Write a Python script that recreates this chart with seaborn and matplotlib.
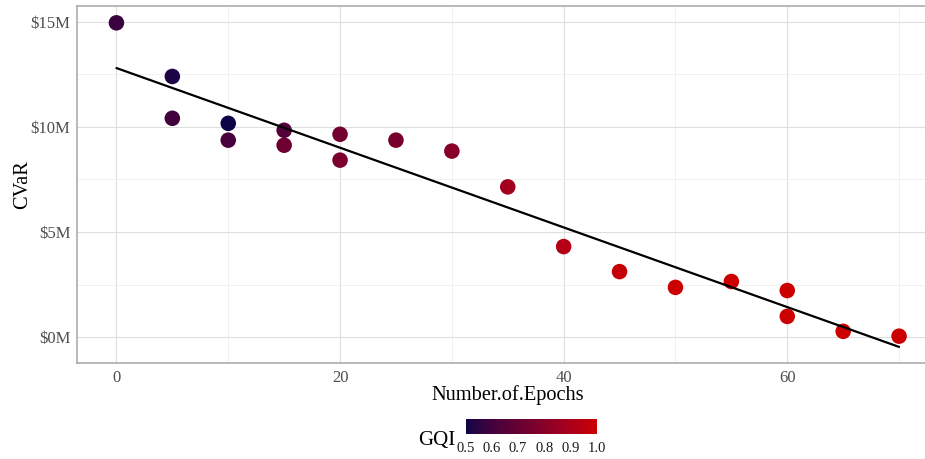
import numpy as np
import pandas as pd
import matplotlib
matplotlib.use("Agg")
import matplotlib.pyplot as plt
from matplotlib.colors import LinearSegmentedColormap, Normalize, to_rgb
from matplotlib.cm import ScalarMappable
import seaborn as sns

# ---- data ----
epochs = [0, 5, 5, 10, 10, 15, 15, 20, 20, 25, 30, 35, 40, 45, 50, 55, 60, 60, 65, 70]
cvar_musd = [14.95, 12.40, 10.41, 10.17, 9.37, 9.84, 9.13, 9.65, 8.42, 9.37,
             8.85, 7.15, 4.31, 3.12, 2.37, 2.65, 2.22, 0.99, 0.28, 0.05]
gqi = [0.58, 0.52, 0.60, 0.50, 0.62, 0.65, 0.72, 0.74, 0.76, 0.75,
       0.80, 0.88, 0.93, 0.98, 1.00, 1.00, 1.00, 1.00, 1.00, 1.00]
y_ticks = [0, 5, 10, 15]
x_ticks = [0, 20, 40, 60]
gqi_ticks = [0.5, 0.6, 0.7, 0.8, 0.9, 1.0]

df = pd.DataFrame({"Number.of.Epochs": epochs, "CVaR": cvar_musd, "GQI": gqi})

# ---- colour map: Lab interpolation like ggplot's scale_colour_gradient ----
def srgb_to_lab(c):
    c = np.array(c)
    lin = np.where(c <= 0.04045, c / 12.92, ((c + 0.055) / 1.055) ** 2.4)
    M = np.array([[0.4124, 0.3576, 0.1805], [0.2126, 0.7152, 0.0722], [0.0193, 0.1192, 0.9505]])
    xyz = M @ lin / np.array([0.95047, 1.0, 1.08883])
    f = np.where(xyz > 0.008856, np.cbrt(xyz), 7.787 * xyz + 16 / 116)
    return np.array([116 * f[1] - 16, 500 * (f[0] - f[1]), 200 * (f[1] - f[2])])

def lab_to_srgb(lab):
    L, a, b = lab
    fy = (L + 16) / 116
    fx = fy + a / 500
    fz = fy - b / 200
    f = np.array([fx, fy, fz])
    xyz = np.where(f ** 3 > 0.008856, f ** 3, (f - 16 / 116) / 7.787) * np.array([0.95047, 1.0, 1.08883])
    Minv = np.array([[3.2406, -1.5372, -0.4986], [-0.9689, 1.8758, 0.0415], [0.0557, -0.2040, 1.0570]])
    lin = Minv @ xyz
    c = np.where(lin <= 0.0031308, 12.92 * lin, 1.055 * np.clip(lin, 0, None) ** (1 / 2.4) - 0.055)
    return np.clip(c, 0, 1)

low, high = to_rgb("#0b0447"), to_rgb("#cc0000")
la, lb = srgb_to_lab(low), srgb_to_lab(high)
cols = [lab_to_srgb(la + (lb - la) * t) for t in np.linspace(0, 1, 64)]
cmap = LinearSegmentedColormap.from_list("gqi", cols)
norm = Normalize(vmin=0.5, vmax=1.0)

# ---- figure ----
sns.set_style("white")
plt.rcParams["font.family"] = ["Liberation Serif", "DejaVu Serif"]

W, H = 925, 459
fig = plt.figure(figsize=(W / 100, H / 100), dpi=100)
ax = fig.add_axes([77.3 / W, 1 - 363.3 / H, (938.2 - 77.3) / W, (363.3 - 6) / H])

grid_col = "#dedede"
ax.set_xlim(-3.5, 73.5)
ax.set_ylim(-1.24, 15.75)
ax.set_xticks(x_ticks)
ax.set_yticks(y_ticks)
ax.set_xticks([10, 30, 50, 70], minor=True)
ax.set_yticks([2.5, 7.5, 12.5], minor=True)
ax.grid(True, which="major", color=grid_col, linewidth=0.8, zorder=0)
ax.grid(True, which="minor", color="#ececec", linewidth=0.5, zorder=0)
ax.set_axisbelow(True)

sns.scatterplot(data=df, x="Number.of.Epochs", y="CVaR", hue="GQI", palette=cmap,
                hue_norm=norm, s=125, linewidth=0, legend=False, ax=ax, zorder=3)
sns.regplot(data=df, x="Number.of.Epochs", y="CVaR", scatter=False, ci=None,
            color="black", line_kws={"linewidth": 1.6, "zorder": 4}, ax=ax)

ax.yaxis.set_major_formatter(matplotlib.ticker.FuncFormatter(lambda v, p: f"${v:.0f}M"))
for s in ax.spines.values():
    s.set_color("#a6a6a6")
    s.set_linewidth(1.1)
ax.tick_params(which="major", length=3.5, width=0.8, color="#a6a6a6",
               labelsize=12, labelcolor="#4d4d4d", pad=1.5)
ax.tick_params(which="minor", length=0)
ax.set_xlabel("Number.of.Epochs", fontsize=14.7, color="black", labelpad=-1)
ax.set_ylabel("CVaR", fontsize=14.7, color="black", labelpad=-1.3)

# ---- colourbar legend ----
cax = fig.add_axes([465.7 / W, 1 - 434.3 / H, 131 / W, 15.3 / H])
cb = fig.colorbar(ScalarMappable(norm=norm, cmap=cmap), cax=cax, orientation="horizontal")
cb.outline.set_visible(False)
cb.set_ticks(gqi_ticks)
cb.set_ticklabels([f"{t:.1f}" for t in gqi_ticks])
cax.tick_params(which="major", direction="in", length=3, width=0.8, color="white",
                top=True, bottom=True, labelsize=10.5, labelcolor="#1a1a1a", pad=5.5)
cax.tick_params(which="minor", length=0)
fig.text(455 / W, 1 - 444.5 / H, "GQI", fontsize=15, ha="right", va="baseline", color="black")

fig.savefig("out.png", dpi=100)
